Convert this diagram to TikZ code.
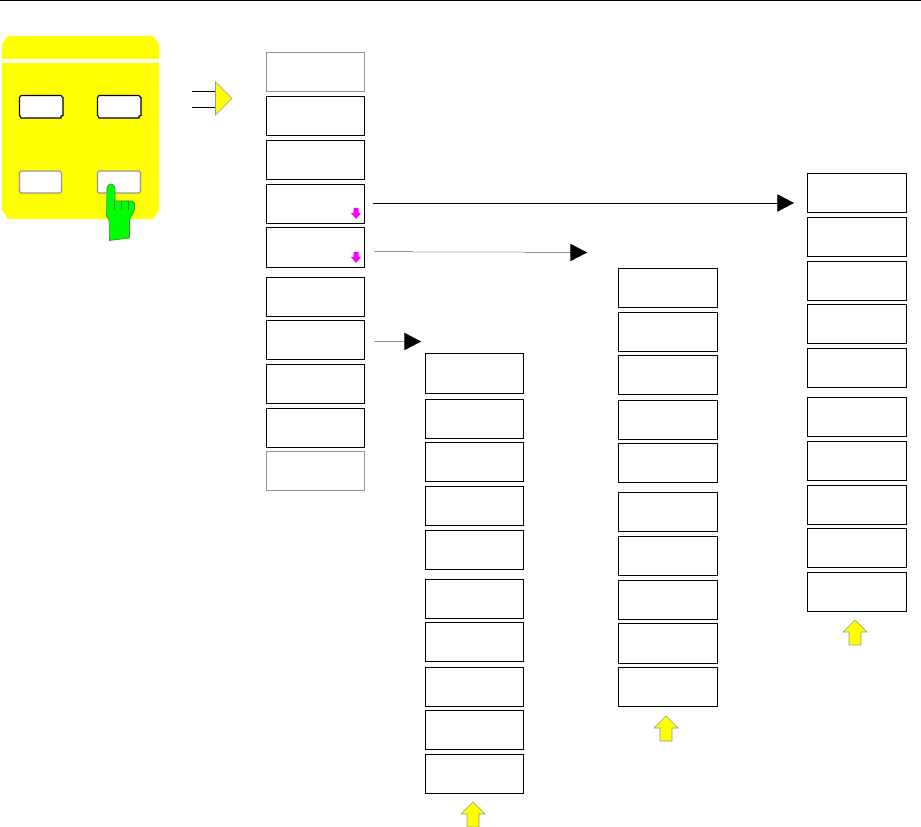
\documentclass[tikz,border=0pt]{standalone}
\usepackage{xcolor}
\usetikzlibrary{calc,arrows.meta,positioning}
\definecolor{panelYellow}{RGB}{255,255,0}
\definecolor{handGreen}{RGB}{0,255,0}
\definecolor{handEdge}{RGB}{70,140,50}
\definecolor{tipMagenta}{RGB}{255,0,255}
\definecolor{edgeGray}{RGB}{150,150,150}
\tikzset{
  softkey/.style={draw=black, line width=0.75pt, minimum width=73.6pt, minimum height=29.8pt, inner sep=0pt, outer sep=0pt},
  softkeyDim/.style={softkey, draw=edgeGray, line width=0.6pt},
  frontkey/.style={fill=white, line width=0.8pt},
  bigHead/.style={-{Triangle[length=12.5pt,width=13pt]}},
  upArrow/.style={fill=panelYellow, draw=edgeGray, line width=0.5pt},
  downTip/.style={fill=tipMagenta, draw=none}
}
\begin{document}
\begin{tikzpicture}[x=0.75pt,y=-0.75pt]
\useasboundingbox (0,0) rectangle (921,827);
\draw[black, line width=0.9pt] (0,0.6)--(921,0.6);

\fill[panelYellow] (8,36)--(153,36)--(159,44)--(159,59)--(2,59)--(2,44)--cycle;
\fill[panelYellow] (2,63)--(159,63)--(159,210)--(153,219)--(8,219)--(2,210)--cycle;
\draw[frontkey, draw=black] (21,95.5)--(61,95.5)--(62.5,97.5)--(63,97.5)--(63,115.5)--(61,116)--(61,118)--(21,118)--(20,116)--(19.5,115.5)--(19.5,97.5)--cycle;
\draw[frontkey, draw=black] (99,95.5)--(139,95.5)--(140.5,97.5)--(141,97.5)--(141,115.5)--(139,116)--(139,118)--(99,118)--(98,116)--(97.5,115.5)--(97.5,97.5)--cycle;
\draw[frontkey, draw=edgeGray] (21,171)--(60,171)--(61.5,173)--(61.5,191.5)--(60,193)--(21,193)--(19.5,191.5)--(19.5,173)--cycle;
\draw[frontkey, draw=edgeGray] (99,171)--(139,171)--(140.5,173)--(140.5,191.5)--(139,193)--(99,193)--(97.5,191.5)--(97.5,173)--cycle;

\draw[fill=handGreen, draw=handEdge, line width=0.5pt] (107,188) arc (180:360:4) --(115,201)--(132,201)--(134.5,203)--(134.5,210)--(129.5,220)--(129.5,238)--(109.5,240.5)--(109,220)--(106.5,216)--cycle;
\draw[handEdge, line width=0.4pt] (114.5,201)--(114.5,210) (121.5,201)--(121.5,210) (128.5,201)--(128.5,210);

\coordinate (inTop) at (192,91);
\coordinate (inBot) at (192,107);
\node[draw=none, minimum size=0pt, inner sep=0pt] (gateTop) at (215,91) {};
\node[draw=none, minimum size=0pt, inner sep=0pt] (gateBot) at (215,107) {};
\draw[black, line width=0.7pt] (inTop)--(gateTop);
\draw[black, line width=0.7pt] (inBot)--(gateBot);
\draw[upArrow] (215.5,82)--(232,98.5)--(215.5,115)--cycle;

\node[softkeyDim] (menuA1) at (315.5,72) {};
\foreach \yc [count=\i from 2] in {116,160,204,247.5,297,340,384,428}
  \node[softkey] (menuA\i) at (315.5,\yc) {};
\node[softkeyDim] (menuA10) at (315.5,471) {};

\foreach \yc [count=\i] in {373.5,419,462,506,550,599,642,687,730,774}
  \node[softkey] (menuB\i) at (474.5,\yc) {};
\foreach \yc [count=\i] in {288,332,375,420,463,512,556,600,643.5,687}
  \node[softkey] (menuC\i) at (668,\yc) {};
\foreach \yc [count=\i] in {193,237,281,324,368,417,461,505,548,592}
  \node[softkey] (menuD\i) at (857,\yc) {};

\foreach \xa/\ya in {356/208, 356/252}
  \fill[downTip] (\xa-2.5,\ya)--(\xa+2.5,\ya)--(\xa+2.5,\ya+5)--(\xa+5,\ya+5)--(\xa,\ya+11)--(\xa-5,\ya+5)--(\xa-2.5,\ya+5)--cycle;

\coordinate (fromD) at ($(menuA4.east)+(8,-1)$);
\coordinate (toD) at (794,203);
\draw[black, line width=0.6pt, bigHead] (fromD)--(toD);

\coordinate (fromC) at (374,251.5);
\coordinate (toC) at (587,252.5);
\draw[edgeGray, line width=0.6pt] (fromC)--(413,251.5);
\draw[black!12, line width=0.9pt] (413,252)--(524,252);
\draw[edgeGray, line width=0.6pt] (524,252.5)--(572,252.5);
\draw[black, line width=0.01pt, bigHead] (570,252.5)--(toC);

\coordinate (fromB) at (374,341.5);
\coordinate (toB) at (421,341.5);
\draw[edgeGray, line width=0.6pt] (fromB)--(405,341.5);
\draw[black, line width=0.01pt, bigHead] (404,341.5)--(toB);

\foreach \xa/\ya in {473/802, 666/716, 855/620}
  \draw[upArrow] (\xa,\ya)--(\xa+12,\ya+12)--(\xa+6,\ya+12)--(\xa+6,\ya+25)--(\xa-6,\ya+25)--(\xa-6,\ya+12)--(\xa-12,\ya+12)--cycle;
\end{tikzpicture}
\end{document}
